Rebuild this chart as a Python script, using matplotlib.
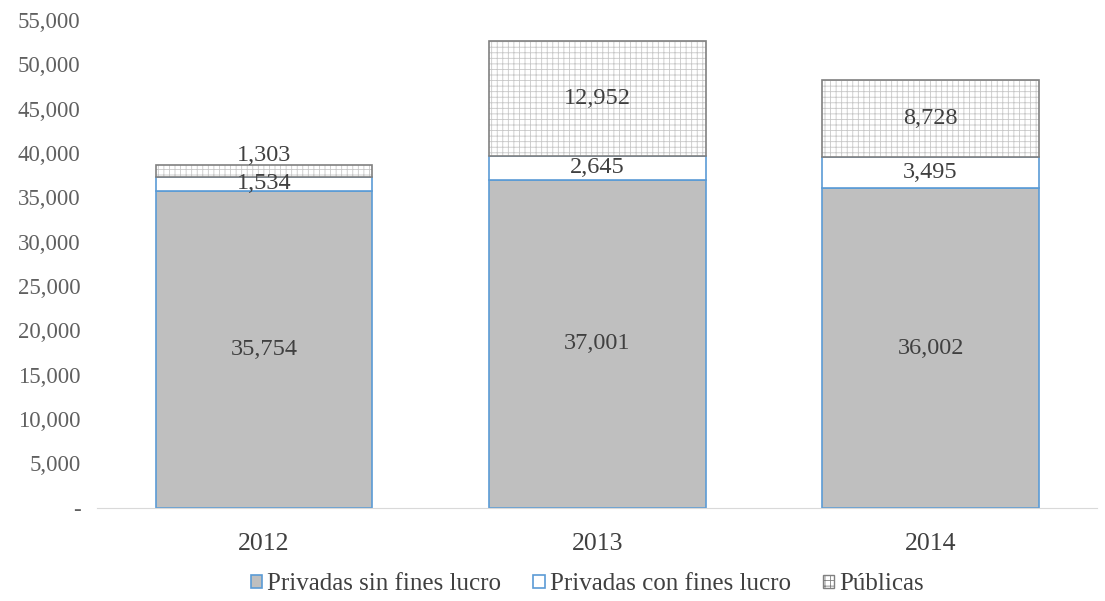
import numpy as np
import matplotlib.pyplot as plt
from matplotlib.ticker import FuncFormatter

years = ["2012", "2013", "2014"]
sin_fines = [35754, 37001, 36002]
con_fines = [1534, 2645, 3495]
publicas = [1303, 12952, 8728]

plt.rcParams['font.family'] = ['Liberation Serif', 'DejaVu Serif']
plt.rcParams['hatch.linewidth'] = 0.6

fig = plt.figure(figsize=(11.05, 6.01), dpi=100)
ax = fig.add_axes([0.088, 0.155, 0.905, 0.812])

x = np.arange(len(years))
w = 0.65
ax.bar(x, sin_fines, w, color='#bfbfbf', edgecolor='#5b9bd5', linewidth=1.2,
       label='Privadas sin fines lucro')
ax.bar(x, con_fines, w, bottom=sin_fines, color='white', edgecolor='#5b9bd5',
       linewidth=1.2, label='Privadas con fines lucro')
bottom3 = np.array(sin_fines) + np.array(con_fines)
# hatch takes the edge colour, so draw a light hatched fill and then a darker outline
ax.bar(x, publicas, w, bottom=bottom3, color='white', edgecolor='#c8c8c8',
       linewidth=0, hatch='+++', label='Públicas')
ax.bar(x, publicas, w, bottom=bottom3, fill=False, edgecolor='#808080', linewidth=1.2)

txt = dict(ha='center', va='center', fontsize=17.5, color='#404040')
for i in range(len(years)):
    ax.text(x[i], sin_fines[i] / 2, f"{sin_fines[i]:,}", **txt)
    ax.text(x[i], sin_fines[i] + con_fines[i] / 2, f"{con_fines[i]:,}", **txt)
    if publicas[i] < 3000:
        # small segment: put the label above the bar
        ax.text(x[i], bottom3[i] + publicas[i] + 1100, f"{publicas[i]:,}", **txt)
    else:
        ax.text(x[i], bottom3[i] + publicas[i] / 2, f"{publicas[i]:,}", **txt)

ax.set_xlim(-0.5, 2.5)
ax.set_ylim(0, 55000)
ax.set_yticks(np.arange(0, 55001, 5000))
ax.yaxis.set_major_formatter(FuncFormatter(lambda v, p: "-" if v == 0 else f"{int(v):,}"))
ax.set_xticks(x)
ax.set_xticklabels(years)
ax.tick_params(axis='y', length=0, labelsize=16.5, labelcolor='#606060', pad=12)
ax.tick_params(axis='x', length=0, labelsize=18.5, labelcolor='#404040', pad=18)
for s in ['top', 'right', 'left']:
    ax.spines[s].set_visible(False)
ax.spines['bottom'].set_color('#d9d9d9')

leg = ax.legend(loc='upper center', bbox_to_anchor=(0.49, -0.088), ncol=3, frameon=False,
                fontsize=18, handlelength=0.45, handleheight=0.45, handletextpad=0.2,
                columnspacing=1.3, labelcolor='#404040')
leg.legend_handles[2].set_edgecolor('#808080')
leg.legend_handles[2].set_linewidth(1.0)

fig.savefig('out.png', dpi=100)
